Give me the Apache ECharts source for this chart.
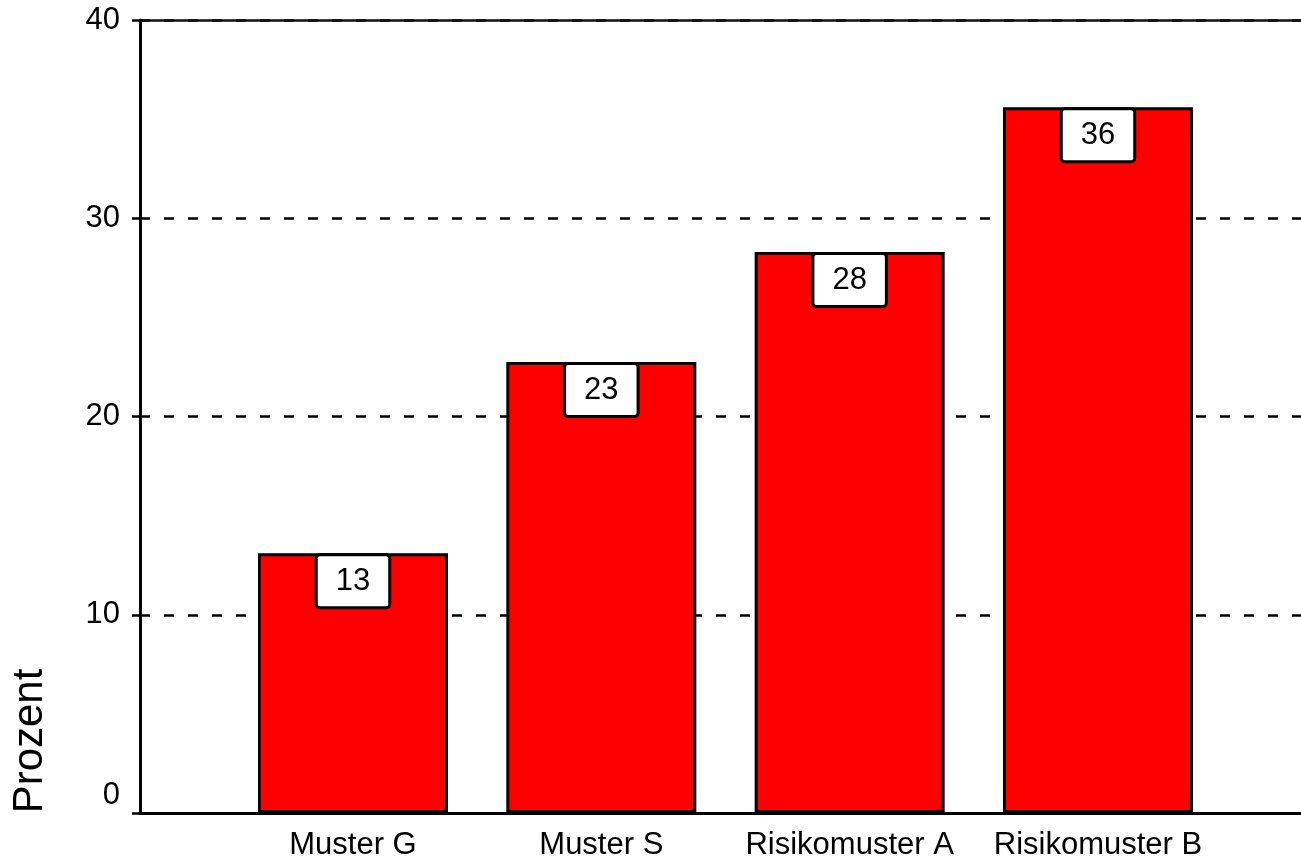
<!DOCTYPE html>
<html>
<head>
<meta charset="utf-8">
<script src="https://cdn.jsdelivr.net/npm/echarts@6/dist/echarts.min.js"></script>
<style>
  html, body { margin: 0; padding: 0; background: #fff; }
  #chart { width: 1301px; height: 862px; }
</style>
</head>
<body>
<div id="chart"></div>
<script>
// categories and values (percent)
const categories = ['Muster G', 'Muster S', 'Risikomuster A', 'Risikomuster B'];
const positions = [1, 2, 3, 4];
const values = [13.1, 22.75, 28.3, 35.6];

const chart = echarts.init(document.getElementById('chart'));

const font = '"Liberation Sans", Arial, sans-serif';

const option = {
  animation: false,
  grid: { left: 140, right: 0, top: 20, bottom: 49 },
  xAxis: [{
    type: 'value',
    min: 0.1423,
    max: 4.8175,
    axisLine: { show: true, onZero: false, lineStyle: { color: '#000', width: 3 } },
    axisTick: { show: false },
    splitLine: { show: false },
    axisLabel: {
      customValues: positions,
      formatter: v => categories[positions.indexOf(v)] || '',
      color: '#000',
      fontFamily: font,
      fontSize: 31,
      margin: 17
    }
  }, {
    type: 'value',
    position: 'top',
    min: 0.1423,
    max: 4.8175,
    axisLine: { show: true, onZero: false, lineStyle: { color: '#111', width: 2.5 } },
    axisTick: { show: false },
    axisLabel: { show: false },
    splitLine: { show: false }
  }],
  yAxis: {
    type: 'value',
    min: 0,
    max: 40,
    interval: 10,
    axisLine: { show: true, lineStyle: { color: '#000', width: 3 } },
    axisTick: { show: true, length: 8, lineStyle: { color: '#000', width: 2.5 } },
    splitLine: { show: true, lineStyle: { color: '#000', width: 2.5, type: [10, 14] } },
    axisLabel: {
      color: '#000',
      fontFamily: font,
      fontSize: 31,
      margin: 20,
      formatter: v => (v === 0 ? '{z|0}' : String(v)),
      rich: {
        z: { fontFamily: font, fontSize: 31, color: '#000', padding: [0, 0, 36, 0] }
      }
    }
  },
  graphic: [{
    type: 'text',
    x: 30,
    y: 741,
    rotation: Math.PI / 2,
    style: {
      text: 'Prozent',
      font: '42px ' + font,
      fill: '#000',
      align: 'center',
      verticalAlign: 'middle'
    }
  }],
  series: [{
    type: 'bar',
    barWidth: 190,
    data: positions.map((p, i) => [p, values[i]]),
    itemStyle: { color: '#ff0000', borderColor: '#000', borderWidth: 3 },
    label: {
      show: true,
      position: 'insideTop',
      distance: 3,
      formatter: p => Math.round(p.value[1]),
      color: '#000',
      fontFamily: font,
      fontSize: 31,
      backgroundColor: '#fff',
      borderColor: '#000',
      borderWidth: 3,
      borderRadius: 2,
      padding: [10, 18, 9, 18]
    }
  }]
};

chart.setOption(option);
</script>
</body>
</html>
